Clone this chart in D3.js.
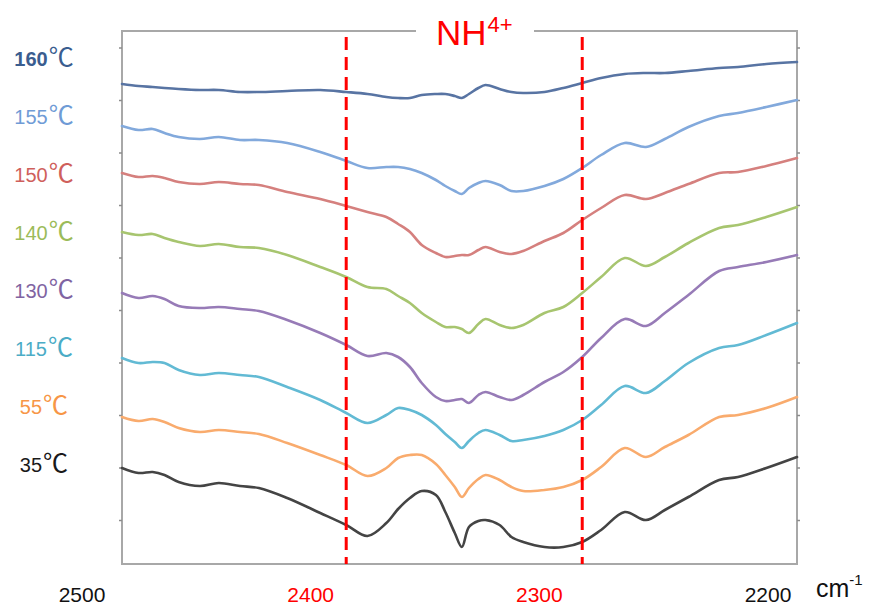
<!DOCTYPE html>
<html>
<head>
<meta charset="utf-8">
<script src="https://cdn.jsdelivr.net/npm/d3@7"></script>
<style>
  html, body { margin: 0; padding: 0; background: #fff; }
  svg { display: block; }
</style>
</head>
<body>
<svg id="chart" width="883" height="606"></svg>
<script>
// ---- data ----
const wavenumbers = [2495, 2488, 2482, 2477, 2471, 2462, 2454, 2445, 2437, 2425, 2411, 2400, 2391, 2383, 2378, 2373, 2368, 2362, 2358, 2354, 2351, 2348, 2344, 2341, 2335, 2330, 2325, 2316, 2308, 2300, 2292, 2282, 2273, 2265, 2255, 2242, 2234, 2222, 2209];

const seriesTemps = ["160", "155", "150", "140", "130", "115", "55", "35"];
const unitDeg = "℃";

const s160 = [4.80, 4.78, 4.77, 4.76, 4.75, 4.74, 4.74, 4.72, 4.72, 4.73, 4.74, 4.72, 4.70, 4.67, 4.66, 4.66, 4.69, 4.70, 4.70, 4.68, 4.66, 4.70, 4.76, 4.79, 4.75, 4.72, 4.71, 4.72, 4.76, 4.81, 4.86, 4.90, 4.91, 4.91, 4.93, 4.96, 4.97, 5.00, 5.02];
const s155 = [4.38, 4.34, 4.35, 4.31, 4.27, 4.25, 4.27, 4.24, 4.24, 4.21, 4.12, 4.03, 3.96, 3.97, 3.97, 3.95, 3.91, 3.84, 3.78, 3.73, 3.70, 3.76, 3.81, 3.83, 3.79, 3.73, 3.73, 3.78, 3.85, 3.96, 4.09, 4.21, 4.17, 4.25, 4.37, 4.48, 4.51, 4.57, 4.64];
const s150 = [3.91, 3.87, 3.88, 3.86, 3.82, 3.80, 3.82, 3.80, 3.79, 3.72, 3.65, 3.58, 3.52, 3.47, 3.40, 3.32, 3.19, 3.11, 3.07, 3.08, 3.09, 3.09, 3.14, 3.17, 3.12, 3.10, 3.13, 3.23, 3.31, 3.44, 3.56, 3.69, 3.65, 3.71, 3.80, 3.91, 3.92, 3.98, 4.06];
const s140 = [3.32, 3.29, 3.30, 3.26, 3.22, 3.18, 3.20, 3.17, 3.16, 3.09, 2.97, 2.87, 2.77, 2.75, 2.68, 2.61, 2.51, 2.42, 2.37, 2.37, 2.35, 2.31, 2.40, 2.45, 2.39, 2.36, 2.39, 2.51, 2.57, 2.71, 2.87, 3.06, 2.98, 3.07, 3.21, 3.36, 3.39, 3.47, 3.57];
const s130 = [2.71, 2.66, 2.68, 2.65, 2.58, 2.56, 2.57, 2.55, 2.53, 2.44, 2.31, 2.19, 2.08, 2.11, 2.07, 1.97, 1.81, 1.67, 1.63, 1.64, 1.65, 1.61, 1.69, 1.72, 1.67, 1.64, 1.69, 1.82, 1.92, 2.07, 2.26, 2.45, 2.38, 2.51, 2.69, 2.93, 2.97, 3.02, 3.09];
const s115 = [2.06, 2.01, 2.02, 2.01, 1.94, 1.89, 1.91, 1.89, 1.87, 1.77, 1.64, 1.51, 1.41, 1.49, 1.56, 1.54, 1.49, 1.39, 1.30, 1.22, 1.16, 1.23, 1.31, 1.34, 1.29, 1.23, 1.24, 1.28, 1.34, 1.44, 1.59, 1.78, 1.71, 1.83, 2.01, 2.16, 2.19, 2.29, 2.41];
const s55  = [1.47, 1.43, 1.45, 1.42, 1.36, 1.32, 1.34, 1.32, 1.30, 1.21, 1.09, 0.99, 0.88, 0.96, 1.06, 1.09, 1.09, 1.00, 0.89, 0.77, 0.67, 0.76, 0.85, 0.89, 0.84, 0.77, 0.73, 0.74, 0.77, 0.84, 0.97, 1.16, 1.07, 1.17, 1.29, 1.47, 1.49, 1.56, 1.67];
const s35  = [0.96, 0.91, 0.92, 0.89, 0.82, 0.78, 0.81, 0.78, 0.76, 0.66, 0.51, 0.39, 0.28, 0.41, 0.55, 0.66, 0.73, 0.69, 0.52, 0.31, 0.17, 0.37, 0.43, 0.44, 0.39, 0.27, 0.22, 0.17, 0.17, 0.22, 0.34, 0.52, 0.44, 0.54, 0.67, 0.84, 0.87, 0.96, 1.07];

const seriesValues = [s160, s155, s150, s140, s130, s115, s55, s35];
const lineColors  = ["#5874a3", "#82a9dc", "#d5807e", "#a7c56f", "#977bb7", "#62bad4", "#f9ab6d", "#444444"];
const labelColors = ["#3a5d8f", "#6f9bd6", "#cf5f5c", "#9bbb59", "#8064a2", "#4bacc6", "#f79646", "#1a1a1a"];

const xTickLabels = [2500, 2400, 2300, 2200];
const markerLines = [2400, 2300];
const titleMain = "NH";
const titleSup = "4+";
const unitMain = "cm";
const unitSup = "-1";

// ---- layout ----
const svg = d3.select("#chart");
const plot = { left: 122, right: 797, top: 31, bottom: 564 };

const x = d3.scaleLinear().domain([2495, 2209]).range([plot.left, plot.right]);
const y = d3.scaleLinear().domain([0, 5.33]).range([plot.bottom, plot.top]);
const labelX = d3.scaleLinear().domain([2500, 2200]).range([82, 768]);
const labelY = d3.scalePoint().domain(seriesTemps).range([66, 472]);

// frame
svg.append("rect")
  .attr("x", plot.left).attr("y", plot.top)
  .attr("width", plot.right - plot.left).attr("height", plot.bottom - plot.top)
  .attr("fill", "none").attr("stroke", "#a8a8a8").attr("stroke-width", 2);

// inner y ticks (left & right)
const yTicks = d3.range(0.44, 5.3, 0.525);
svg.append("g").attr("transform", `translate(${plot.left},0)`)
  .call(d3.axisLeft(y).tickValues(yTicks).tickSize(3).tickFormat(""))
  .call(g => g.select(".domain").remove())
  .call(g => g.selectAll("line").attr("stroke", "#8c8c8c").attr("stroke-width", 1.5));
svg.append("g").attr("transform", `translate(${plot.right},0)`)
  .call(d3.axisRight(y).tickValues(yTicks).tickSize(3).tickFormat(""))
  .call(g => g.select(".domain").remove())
  .call(g => g.selectAll("line").attr("stroke", "#8c8c8c").attr("stroke-width", 1.5));

// curves
const line = d3.line()
  .x((d, i) => x(wavenumbers[i]))
  .y(d => y(d))
  .curve(d3.curveCatmullRom.alpha(0.5));

svg.append("g").selectAll("path")
  .data(seriesValues)
  .join("path")
  .attr("d", d => line(d))
  .attr("fill", "none")
  .attr("stroke", (d, i) => lineColors[i])
  .attr("stroke-width", 2.6)
  .attr("stroke-linejoin", "round")
  .attr("stroke-linecap", "round");

// dashed markers
svg.append("g").selectAll("line")
  .data(markerLines)
  .join("line")
  .attr("x1", d => x(d)).attr("x2", d => x(d))
  .attr("y1", plot.top + 6).attr("y2", plot.bottom)
  .attr("stroke", "#ff0000").attr("stroke-width", 3)
  .attr("stroke-dasharray", "13,7");

// title box + title
svg.append("rect")
  .attr("x", 416).attr("y", 10).attr("width", 118).attr("height", 34)
  .attr("fill", "#fff");
const title = svg.append("text")
  .attr("x", 436).attr("y", 45)
  .attr("font-family", "Liberation Sans, Arial, sans-serif")
  .attr("fill", "#ff0000");
title.append("tspan").attr("font-size", 35).text(titleMain);
title.append("tspan").attr("font-size", 22).attr("dx", 1).attr("dy", -13).text(titleSup);

// series labels
const lbl = svg.append("g").selectAll("text")
  .data(seriesTemps)
  .join("text")
  .attr("x", 44)
  .attr("y", d => labelY(d))
  .attr("text-anchor", "middle")
  .attr("font-family", "Liberation Sans, Arial, sans-serif")
  .attr("font-weight", (d, i) => i === 0 ? "bold" : "normal")
  .attr("fill", (d, i) => labelColors[i]);
lbl.append("tspan").attr("font-size", 20).text(d => d);
lbl.append("tspan")
  .attr("font-family", "Noto Sans CJK SC, Noto Sans CJK JP, sans-serif")
  .attr("font-weight", "normal")
  .attr("font-size", 25)
  .attr("dx", 1)
  .text(unitDeg);

// x tick labels
svg.append("g").selectAll("text")
  .data(xTickLabels)
  .join("text")
  .attr("x", d => labelX(d))
  .attr("y", 602)
  .attr("text-anchor", "middle")
  .attr("font-family", "Liberation Sans, Arial, sans-serif")
  .attr("font-size", 21)
  .attr("fill", d => markerLines.includes(d) ? "#ff0000" : "#111")
  .text(d => d);

// unit
const unit = svg.append("text")
  .attr("x", 816).attr("y", 597)
  .attr("font-family", "Liberation Sans, Arial, sans-serif")
  .attr("fill", "#111");
unit.append("tspan").attr("font-size", 25).text(unitMain);
unit.append("tspan").attr("font-size", 15).attr("dy", -12).text(unitSup);
</script>
</body>
</html>
